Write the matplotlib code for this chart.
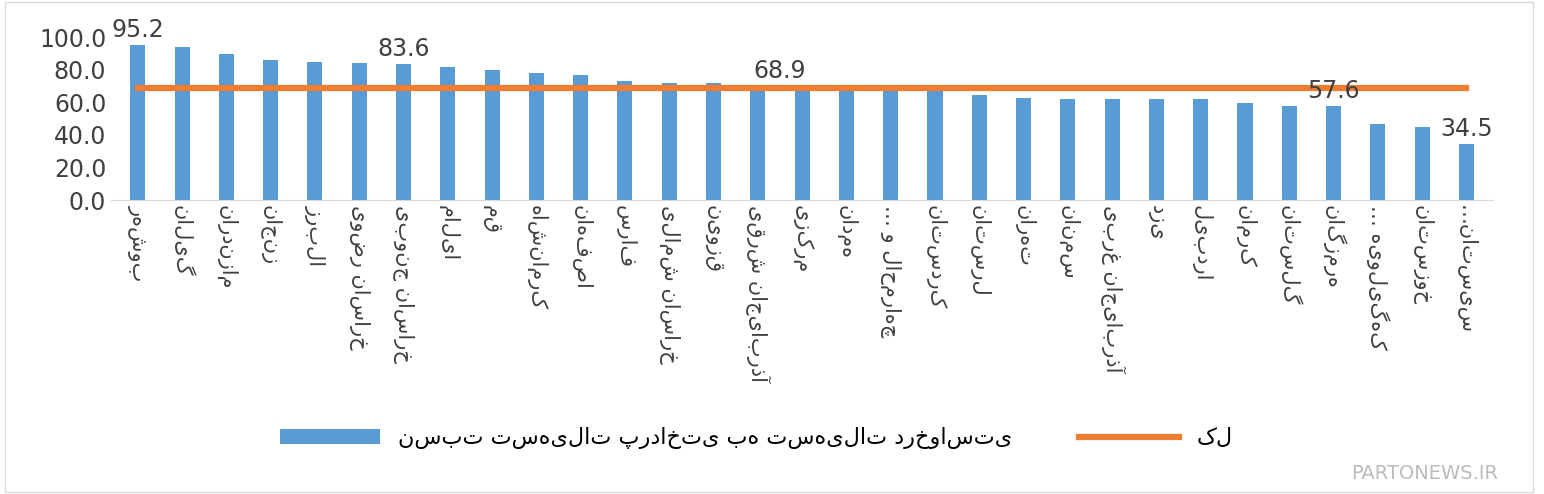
import matplotlib
matplotlib.use("Agg")
import matplotlib.pyplot as plt
import numpy as np

provinces = ["بوشهر","گیلان","مازندران","زنجان","البرز","خراسان رضوی","خراسان جنوبی","ایلام","قم","کرمانشاه",
             "اصفهان","فارس","خراسان شمالی","قزوین","آذربایجان شرقی","مرکزی","همدان","چهارمحال و …","کردستان","لرستان",
             "تهران","سمنان","آذربایجان غربی","یزد","اردبیل","کرمان","گلستان","هرمزگان","کهگیلویه …","خوزستان","سیستان…"]
ratio = [95.2,94.0,89.5,86.0,84.5,84.0,83.6,81.5,80.0,78.0,
         77.0,73.0,72.0,72.0,69.0,68.9,68.0,68.0,67.0,64.5,
         62.5,62.0,62.0,62.0,62.0,59.5,58.0,57.6,46.5,45.0,34.5]
total = [68.9]*len(provinces)
labeled = {0:"95.2",6:"83.6",27:"57.6",30:"34.5"}
line_label = (14.5, "68.9")
series_names = ["نسبت تسهیلات پرداختی به تسهیلات درخواستی", "کل"]

plt.rcParams['font.family'] = ['DejaVu Sans']
fig = plt.figure(figsize=(15.44,4.94), dpi=100)
ax = fig.add_axes([0.072, 0.595, 0.895, 0.33])
x = np.arange(len(provinces))
bars = ax.bar(x, ratio, width=0.34, color="#5b9bd5", label=series_names[0])
line, = ax.plot(x, total, color="#ed7d31", lw=4.5, label=series_names[1])
for i, t in labeled.items():
    ax.text(i, ratio[i]+2, t, ha="center", va="bottom", fontsize=17, color="#404040")
ax.text(line_label[0], total[0]+3, line_label[1], ha="center", va="bottom", fontsize=17, color="#404040")
ax.set_ylim(0, 100)
ax.set_xlim(-0.6, len(provinces)-0.4)
ax.set_yticks(np.arange(0, 101, 20))
ax.set_yticklabels([f"{v:.1f}" for v in np.arange(0, 101, 20)], fontsize=17, color="#404040")
ax.set_xticks(x)
# rotated text is drawn without bidi reordering here, so feed it in visual order
ax.set_xticklabels([p[::-1] for p in provinces], rotation=-90, fontsize=15, color="#404040", va="top")
for s in ["top","right","left"]:
    ax.spines[s].set_visible(False)
ax.spines["bottom"].set_color("#d9d9d9")
ax.tick_params(length=0)
fig.legend([bars, line], series_names, loc="lower center", bbox_to_anchor=(0.49, 0.05), ncol=2,
           frameon=False, fontsize=16, handlelength=4.5, columnspacing=3)
fig.add_artist(plt.Rectangle((0.003,0.005),0.99,0.99, transform=fig.transFigure, fill=False, ec="#d9d9d9"))
fig.text(0.97, 0.03, "PARTONEWS.IR", ha="right", fontsize=14, color="#bbbbbb")
fig.savefig("out.png", dpi=100)
